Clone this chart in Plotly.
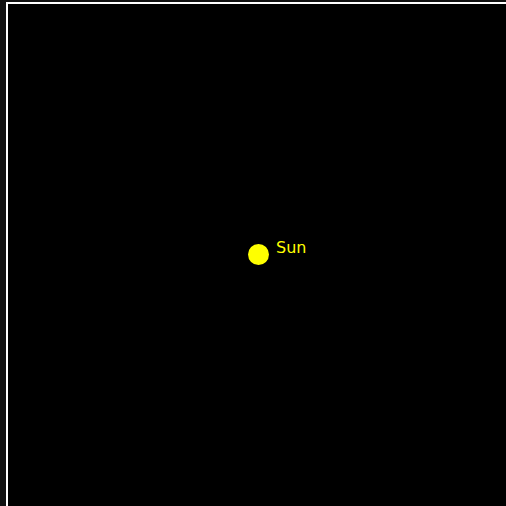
"""
太阳系示意图：只画太阳
依赖：plotly
"""

import plotly.graph_objects as go

# 天体数据
body_names = ['Sun']
body_x = [0.0]
body_y = [0.0]
body_colors = ['yellow']

# 坐标范围
x_range = [-1.0, 0.988]
y_range = [-1.004, 1.0]

fig = go.Figure()

# 太阳
fig.add_trace(go.Scatter(
    x=body_x,
    y=body_y,
    mode='markers',
    marker=dict(color=body_colors, size=21),
    showlegend=False,
    hovertext=body_names,
    hoverinfo='text',
))

# 名称标签
for name, bx, by, c in zip(body_names, body_x, body_y, body_colors):
    fig.add_annotation(
        x=bx, y=by,
        text=name,
        showarrow=False,
        xanchor='left',
        yanchor='middle',
        xshift=15,
        yshift=7,
        font=dict(color=c, size=16, family='DejaVu Sans'),
    )

fig.update_layout(
    width=506,
    height=506,
    paper_bgcolor='rgb(17,17,17)',
    plot_bgcolor='black',
    margin=dict(l=8, r=0, t=4, b=0),
    xaxis=dict(
        range=x_range,
        side='top',
        showline=True,
        linecolor='white',
        linewidth=2,
        showgrid=False,
        zeroline=False,
        showticklabels=False,
        ticks='',
    ),
    yaxis=dict(
        range=y_range,
        showline=True,
        linecolor='white',
        linewidth=2,
        showgrid=False,
        zeroline=False,
        showticklabels=False,
        ticks='',
    ),
)

# 去掉页面默认边距，让图贴满窗口；不显示工具栏
fig.write_html(
    "out.html",
    config={'displayModeBar': False},
    post_script="document.body.style.margin='0';",
)
